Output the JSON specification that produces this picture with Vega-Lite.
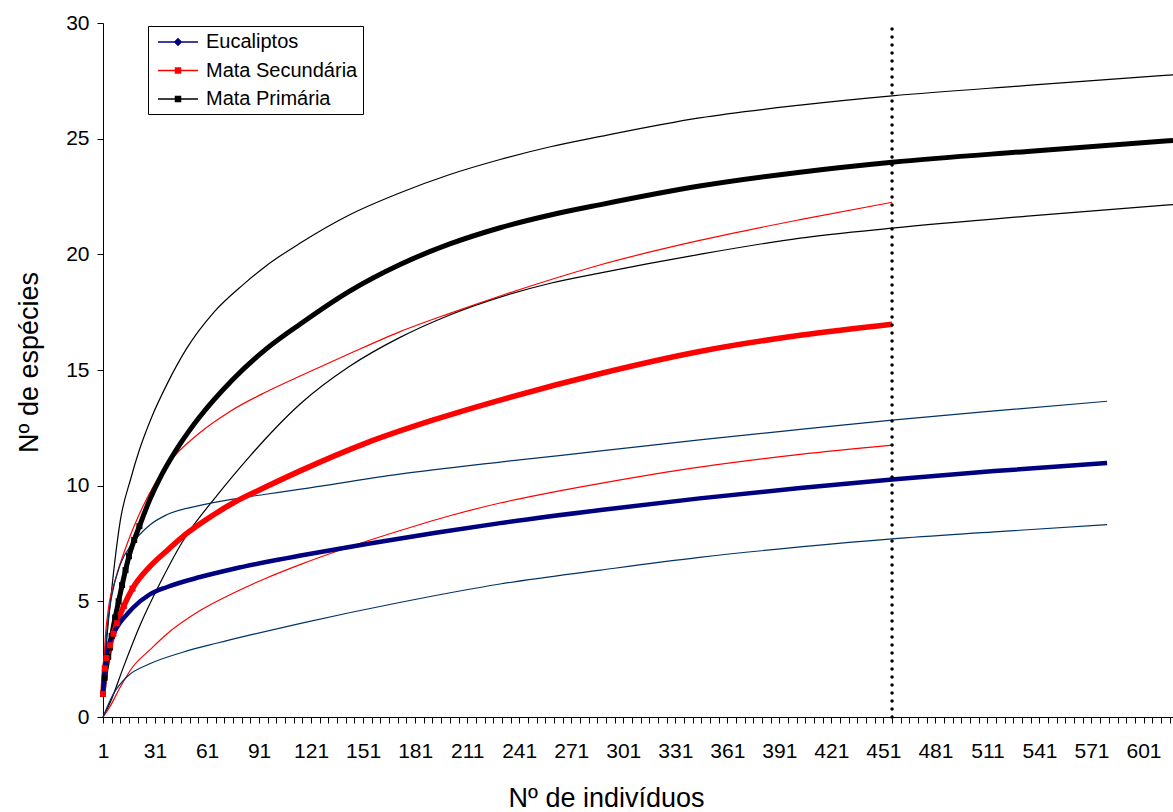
{
  "$schema": "https://vega.github.io/schema/vega-lite/v6.json",
  "width": 1070,
  "height": 694,
  "autosize": {"type": "none"},
  "padding": {"left": 103, "top": 23, "right": 0, "bottom": 95},
  "background": "white",
  "config": {
    "view": {"stroke": null},
    "font": "Liberation Sans",
    "axis": {
      "grid": false,
      "domainColor": "#000000",
      "tickColor": "#000000",
      "labelColor": "#000000",
      "titleColor": "#000000",
      "labelFont": "Liberation Sans",
      "titleFont": "Liberation Sans",
      "labelFontSize": 21,
      "titleFontSize": 27,
      "titleFontWeight": "normal"
    }
  },
  "datasets": {
    "curvas": [
      {"n": 1, "y": 1.0, "serie": "Mata Primária", "tipo": "media"},
      {"n": 2, "y": 1.7, "serie": "Mata Primária", "tipo": "media"},
      {"n": 4, "y": 2.6, "serie": "Mata Primária", "tipo": "media"},
      {"n": 5, "y": 3.0, "serie": "Mata Primária", "tipo": "media"},
      {"n": 6, "y": 3.5, "serie": "Mata Primária", "tipo": "media"},
      {"n": 8, "y": 4.3, "serie": "Mata Primária", "tipo": "media"},
      {"n": 10, "y": 5.0, "serie": "Mata Primária", "tipo": "media"},
      {"n": 12, "y": 5.7, "serie": "Mata Primária", "tipo": "media"},
      {"n": 14, "y": 6.35, "serie": "Mata Primária", "tipo": "media"},
      {"n": 16, "y": 6.95, "serie": "Mata Primária", "tipo": "media"},
      {"n": 19, "y": 7.65, "serie": "Mata Primária", "tipo": "media"},
      {"n": 22, "y": 8.25, "serie": "Mata Primária", "tipo": "media"},
      {"n": 28, "y": 9.4, "serie": "Mata Primária", "tipo": "media"},
      {"n": 34, "y": 10.35, "serie": "Mata Primária", "tipo": "media"},
      {"n": 40, "y": 11.15, "serie": "Mata Primária", "tipo": "media"},
      {"n": 45, "y": 11.75, "serie": "Mata Primária", "tipo": "media"},
      {"n": 51, "y": 12.4, "serie": "Mata Primária", "tipo": "media"},
      {"n": 56, "y": 12.9, "serie": "Mata Primária", "tipo": "media"},
      {"n": 76, "y": 14.6, "serie": "Mata Primária", "tipo": "media"},
      {"n": 95, "y": 15.9, "serie": "Mata Primária", "tipo": "media"},
      {"n": 115, "y": 17.0, "serie": "Mata Primária", "tipo": "media"},
      {"n": 143, "y": 18.4, "serie": "Mata Primária", "tipo": "media"},
      {"n": 172, "y": 19.55, "serie": "Mata Primária", "tipo": "media"},
      {"n": 201, "y": 20.45, "serie": "Mata Primária", "tipo": "media"},
      {"n": 230, "y": 21.15, "serie": "Mata Primária", "tipo": "media"},
      {"n": 259, "y": 21.7, "serie": "Mata Primária", "tipo": "media"},
      {"n": 288, "y": 22.15, "serie": "Mata Primária", "tipo": "media"},
      {"n": 345, "y": 22.95, "serie": "Mata Primária", "tipo": "media"},
      {"n": 403, "y": 23.55, "serie": "Mata Primária", "tipo": "media"},
      {"n": 456, "y": 23.98, "serie": "Mata Primária", "tipo": "media"},
      {"n": 534, "y": 24.45, "serie": "Mata Primária", "tipo": "media"},
      {"n": 618, "y": 24.92, "serie": "Mata Primária", "tipo": "media"},

      {"n": 1, "y": 1.0, "serie": "Mata Primária", "tipo": "sup"},
      {"n": 3, "y": 3.2, "serie": "Mata Primária", "tipo": "sup"},
      {"n": 5, "y": 4.8, "serie": "Mata Primária", "tipo": "sup"},
      {"n": 7, "y": 6.2, "serie": "Mata Primária", "tipo": "sup"},
      {"n": 11, "y": 8.5, "serie": "Mata Primária", "tipo": "sup"},
      {"n": 17, "y": 10.3, "serie": "Mata Primária", "tipo": "sup"},
      {"n": 22, "y": 11.55, "serie": "Mata Primária", "tipo": "sup"},
      {"n": 29, "y": 12.95, "serie": "Mata Primária", "tipo": "sup"},
      {"n": 38, "y": 14.4, "serie": "Mata Primária", "tipo": "sup"},
      {"n": 49, "y": 15.9, "serie": "Mata Primária", "tipo": "sup"},
      {"n": 65, "y": 17.5, "serie": "Mata Primária", "tipo": "sup"},
      {"n": 82, "y": 18.7, "serie": "Mata Primária", "tipo": "sup"},
      {"n": 95, "y": 19.5, "serie": "Mata Primária", "tipo": "sup"},
      {"n": 115, "y": 20.5, "serie": "Mata Primária", "tipo": "sup"},
      {"n": 143, "y": 21.7, "serie": "Mata Primária", "tipo": "sup"},
      {"n": 172, "y": 22.65, "serie": "Mata Primária", "tipo": "sup"},
      {"n": 201, "y": 23.45, "serie": "Mata Primária", "tipo": "sup"},
      {"n": 230, "y": 24.1, "serie": "Mata Primária", "tipo": "sup"},
      {"n": 259, "y": 24.65, "serie": "Mata Primária", "tipo": "sup"},
      {"n": 288, "y": 25.1, "serie": "Mata Primária", "tipo": "sup"},
      {"n": 345, "y": 25.9, "serie": "Mata Primária", "tipo": "sup"},
      {"n": 403, "y": 26.45, "serie": "Mata Primária", "tipo": "sup"},
      {"n": 456, "y": 26.85, "serie": "Mata Primária", "tipo": "sup"},
      {"n": 534, "y": 27.3, "serie": "Mata Primária", "tipo": "sup"},
      {"n": 618, "y": 27.76, "serie": "Mata Primária", "tipo": "sup"},

      {"n": 1, "y": 0.0, "serie": "Mata Primária", "tipo": "inf"},
      {"n": 5, "y": 0.6, "serie": "Mata Primária", "tipo": "inf"},
      {"n": 13, "y": 2.2, "serie": "Mata Primária", "tipo": "inf"},
      {"n": 22, "y": 3.9, "serie": "Mata Primária", "tipo": "inf"},
      {"n": 34, "y": 5.8, "serie": "Mata Primária", "tipo": "inf"},
      {"n": 47, "y": 7.6, "serie": "Mata Primária", "tipo": "inf"},
      {"n": 67, "y": 9.6, "serie": "Mata Primária", "tipo": "inf"},
      {"n": 86, "y": 11.3, "serie": "Mata Primária", "tipo": "inf"},
      {"n": 100, "y": 12.45, "serie": "Mata Primária", "tipo": "inf"},
      {"n": 115, "y": 13.55, "serie": "Mata Primária", "tipo": "inf"},
      {"n": 143, "y": 15.15, "serie": "Mata Primária", "tipo": "inf"},
      {"n": 172, "y": 16.4, "serie": "Mata Primária", "tipo": "inf"},
      {"n": 201, "y": 17.38, "serie": "Mata Primária", "tipo": "inf"},
      {"n": 230, "y": 18.15, "serie": "Mata Primária", "tipo": "inf"},
      {"n": 259, "y": 18.75, "serie": "Mata Primária", "tipo": "inf"},
      {"n": 288, "y": 19.2, "serie": "Mata Primária", "tipo": "inf"},
      {"n": 345, "y": 20.0, "serie": "Mata Primária", "tipo": "inf"},
      {"n": 403, "y": 20.7, "serie": "Mata Primária", "tipo": "inf"},
      {"n": 456, "y": 21.13, "serie": "Mata Primária", "tipo": "inf"},
      {"n": 534, "y": 21.65, "serie": "Mata Primária", "tipo": "inf"},
      {"n": 618, "y": 22.15, "serie": "Mata Primária", "tipo": "inf"},

      {"n": 1, "y": 1.0, "serie": "Mata Secundária", "tipo": "media"},
      {"n": 2, "y": 2.1, "serie": "Mata Secundária", "tipo": "media"},
      {"n": 3, "y": 2.55, "serie": "Mata Secundária", "tipo": "media"},
      {"n": 5, "y": 3.1, "serie": "Mata Secundária", "tipo": "media"},
      {"n": 7, "y": 3.6, "serie": "Mata Secundária", "tipo": "media"},
      {"n": 9, "y": 4.05, "serie": "Mata Secundária", "tipo": "media"},
      {"n": 13, "y": 4.8, "serie": "Mata Secundária", "tipo": "media"},
      {"n": 18, "y": 5.55, "serie": "Mata Secundária", "tipo": "media"},
      {"n": 28, "y": 6.5, "serie": "Mata Secundária", "tipo": "media"},
      {"n": 38, "y": 7.2, "serie": "Mata Secundária", "tipo": "media"},
      {"n": 47, "y": 7.8, "serie": "Mata Secundária", "tipo": "media"},
      {"n": 57, "y": 8.35, "serie": "Mata Secundária", "tipo": "media"},
      {"n": 76, "y": 9.25, "serie": "Mata Secundária", "tipo": "media"},
      {"n": 95, "y": 9.95, "serie": "Mata Secundária", "tipo": "media"},
      {"n": 115, "y": 10.65, "serie": "Mata Secundária", "tipo": "media"},
      {"n": 153, "y": 11.85, "serie": "Mata Secundária", "tipo": "media"},
      {"n": 192, "y": 12.85, "serie": "Mata Secundária", "tipo": "media"},
      {"n": 230, "y": 13.7, "serie": "Mata Secundária", "tipo": "media"},
      {"n": 288, "y": 14.85, "serie": "Mata Secundária", "tipo": "media"},
      {"n": 345, "y": 15.8, "serie": "Mata Secundária", "tipo": "media"},
      {"n": 403, "y": 16.5, "serie": "Mata Secundária", "tipo": "media"},
      {"n": 456, "y": 16.98, "serie": "Mata Secundária", "tipo": "media"},

      {"n": 1, "y": 1.0, "serie": "Mata Secundária", "tipo": "sup"},
      {"n": 2, "y": 3.0, "serie": "Mata Secundária", "tipo": "sup"},
      {"n": 4, "y": 4.6, "serie": "Mata Secundária", "tipo": "sup"},
      {"n": 8, "y": 5.9, "serie": "Mata Secundária", "tipo": "sup"},
      {"n": 15, "y": 7.5, "serie": "Mata Secundária", "tipo": "sup"},
      {"n": 24, "y": 9.1, "serie": "Mata Secundária", "tipo": "sup"},
      {"n": 38, "y": 10.9, "serie": "Mata Secundária", "tipo": "sup"},
      {"n": 57, "y": 12.3, "serie": "Mata Secundária", "tipo": "sup"},
      {"n": 74, "y": 13.2, "serie": "Mata Secundária", "tipo": "sup"},
      {"n": 95, "y": 14.05, "serie": "Mata Secundária", "tipo": "sup"},
      {"n": 115, "y": 14.75, "serie": "Mata Secundária", "tipo": "sup"},
      {"n": 143, "y": 15.7, "serie": "Mata Secundária", "tipo": "sup"},
      {"n": 172, "y": 16.65, "serie": "Mata Secundária", "tipo": "sup"},
      {"n": 201, "y": 17.45, "serie": "Mata Secundária", "tipo": "sup"},
      {"n": 230, "y": 18.2, "serie": "Mata Secundária", "tipo": "sup"},
      {"n": 259, "y": 18.9, "serie": "Mata Secundária", "tipo": "sup"},
      {"n": 288, "y": 19.55, "serie": "Mata Secundária", "tipo": "sup"},
      {"n": 345, "y": 20.6, "serie": "Mata Secundária", "tipo": "sup"},
      {"n": 403, "y": 21.5, "serie": "Mata Secundária", "tipo": "sup"},
      {"n": 456, "y": 22.25, "serie": "Mata Secundária", "tipo": "sup"},

      {"n": 1, "y": 0.0, "serie": "Mata Secundária", "tipo": "inf"},
      {"n": 5, "y": 0.45, "serie": "Mata Secundária", "tipo": "inf"},
      {"n": 11, "y": 1.3, "serie": "Mata Secundária", "tipo": "inf"},
      {"n": 18, "y": 2.15, "serie": "Mata Secundária", "tipo": "inf"},
      {"n": 28, "y": 2.9, "serie": "Mata Secundária", "tipo": "inf"},
      {"n": 38, "y": 3.6, "serie": "Mata Secundária", "tipo": "inf"},
      {"n": 57, "y": 4.6, "serie": "Mata Secundária", "tipo": "inf"},
      {"n": 76, "y": 5.35, "serie": "Mata Secundária", "tipo": "inf"},
      {"n": 95, "y": 6.0, "serie": "Mata Secundária", "tipo": "inf"},
      {"n": 115, "y": 6.6, "serie": "Mata Secundária", "tipo": "inf"},
      {"n": 143, "y": 7.35, "serie": "Mata Secundária", "tipo": "inf"},
      {"n": 172, "y": 8.05, "serie": "Mata Secundária", "tipo": "inf"},
      {"n": 201, "y": 8.7, "serie": "Mata Secundária", "tipo": "inf"},
      {"n": 230, "y": 9.25, "serie": "Mata Secundária", "tipo": "inf"},
      {"n": 259, "y": 9.7, "serie": "Mata Secundária", "tipo": "inf"},
      {"n": 288, "y": 10.1, "serie": "Mata Secundária", "tipo": "inf"},
      {"n": 345, "y": 10.8, "serie": "Mata Secundária", "tipo": "inf"},
      {"n": 403, "y": 11.35, "serie": "Mata Secundária", "tipo": "inf"},
      {"n": 456, "y": 11.75, "serie": "Mata Secundária", "tipo": "inf"},

      {"n": 1, "y": 1.0, "serie": "Eucaliptos", "tipo": "media"},
      {"n": 2, "y": 2.0, "serie": "Eucaliptos", "tipo": "media"},
      {"n": 4, "y": 3.0, "serie": "Eucaliptos", "tipo": "media"},
      {"n": 7, "y": 3.6, "serie": "Eucaliptos", "tipo": "media"},
      {"n": 11, "y": 4.1, "serie": "Eucaliptos", "tipo": "media"},
      {"n": 15, "y": 4.45, "serie": "Eucaliptos", "tipo": "media"},
      {"n": 18, "y": 4.7, "serie": "Eucaliptos", "tipo": "media"},
      {"n": 28, "y": 5.3, "serie": "Eucaliptos", "tipo": "media"},
      {"n": 38, "y": 5.62, "serie": "Eucaliptos", "tipo": "media"},
      {"n": 57, "y": 6.05, "serie": "Eucaliptos", "tipo": "media"},
      {"n": 76, "y": 6.4, "serie": "Eucaliptos", "tipo": "media"},
      {"n": 95, "y": 6.7, "serie": "Eucaliptos", "tipo": "media"},
      {"n": 115, "y": 6.98, "serie": "Eucaliptos", "tipo": "media"},
      {"n": 153, "y": 7.48, "serie": "Eucaliptos", "tipo": "media"},
      {"n": 192, "y": 7.95, "serie": "Eucaliptos", "tipo": "media"},
      {"n": 230, "y": 8.38, "serie": "Eucaliptos", "tipo": "media"},
      {"n": 288, "y": 8.95, "serie": "Eucaliptos", "tipo": "media"},
      {"n": 345, "y": 9.45, "serie": "Eucaliptos", "tipo": "media"},
      {"n": 403, "y": 9.9, "serie": "Eucaliptos", "tipo": "media"},
      {"n": 456, "y": 10.27, "serie": "Eucaliptos", "tipo": "media"},
      {"n": 515, "y": 10.63, "serie": "Eucaliptos", "tipo": "media"},
      {"n": 580, "y": 10.98, "serie": "Eucaliptos", "tipo": "media"},

      {"n": 1, "y": 1.0, "serie": "Eucaliptos", "tipo": "sup"},
      {"n": 3, "y": 3.5, "serie": "Eucaliptos", "tipo": "sup"},
      {"n": 6, "y": 5.2, "serie": "Eucaliptos", "tipo": "sup"},
      {"n": 11, "y": 6.6, "serie": "Eucaliptos", "tipo": "sup"},
      {"n": 18, "y": 7.5, "serie": "Eucaliptos", "tipo": "sup"},
      {"n": 28, "y": 8.3, "serie": "Eucaliptos", "tipo": "sup"},
      {"n": 38, "y": 8.75, "serie": "Eucaliptos", "tipo": "sup"},
      {"n": 57, "y": 9.15, "serie": "Eucaliptos", "tipo": "sup"},
      {"n": 76, "y": 9.42, "serie": "Eucaliptos", "tipo": "sup"},
      {"n": 95, "y": 9.63, "serie": "Eucaliptos", "tipo": "sup"},
      {"n": 115, "y": 9.85, "serie": "Eucaliptos", "tipo": "sup"},
      {"n": 172, "y": 10.5, "serie": "Eucaliptos", "tipo": "sup"},
      {"n": 230, "y": 11.02, "serie": "Eucaliptos", "tipo": "sup"},
      {"n": 288, "y": 11.5, "serie": "Eucaliptos", "tipo": "sup"},
      {"n": 345, "y": 11.98, "serie": "Eucaliptos", "tipo": "sup"},
      {"n": 403, "y": 12.43, "serie": "Eucaliptos", "tipo": "sup"},
      {"n": 456, "y": 12.83, "serie": "Eucaliptos", "tipo": "sup"},
      {"n": 515, "y": 13.23, "serie": "Eucaliptos", "tipo": "sup"},
      {"n": 580, "y": 13.65, "serie": "Eucaliptos", "tipo": "sup"},

      {"n": 1, "y": 0.0, "serie": "Eucaliptos", "tipo": "inf"},
      {"n": 7, "y": 1.0, "serie": "Eucaliptos", "tipo": "inf"},
      {"n": 15, "y": 1.75, "serie": "Eucaliptos", "tipo": "inf"},
      {"n": 28, "y": 2.3, "serie": "Eucaliptos", "tipo": "inf"},
      {"n": 47, "y": 2.8, "serie": "Eucaliptos", "tipo": "inf"},
      {"n": 67, "y": 3.2, "serie": "Eucaliptos", "tipo": "inf"},
      {"n": 86, "y": 3.55, "serie": "Eucaliptos", "tipo": "inf"},
      {"n": 115, "y": 4.05, "serie": "Eucaliptos", "tipo": "inf"},
      {"n": 172, "y": 4.95, "serie": "Eucaliptos", "tipo": "inf"},
      {"n": 230, "y": 5.75, "serie": "Eucaliptos", "tipo": "inf"},
      {"n": 288, "y": 6.35, "serie": "Eucaliptos", "tipo": "inf"},
      {"n": 345, "y": 6.9, "serie": "Eucaliptos", "tipo": "inf"},
      {"n": 403, "y": 7.35, "serie": "Eucaliptos", "tipo": "inf"},
      {"n": 456, "y": 7.7, "serie": "Eucaliptos", "tipo": "inf"},
      {"n": 515, "y": 8.0, "serie": "Eucaliptos", "tipo": "inf"},
      {"n": 580, "y": 8.32, "serie": "Eucaliptos", "tipo": "inf"}
    ],
    "referencia": [{"n": 456, "y": 0, "y2": 30}]
  },
  "data": {"name": "curvas"},
  "encoding": {
    "x": {
      "field": "n", "type": "quantitative",
      "scale": {"domain": [1, 618], "nice": false, "zero": false},
      "axis": {
        "title": "Nº de indivíduos",
        "values": [1,6,11,16,21,26,31,36,41,46,51,56,61,66,71,76,81,86,91,96,101,106,111,116,121,126,131,136,141,146,151,156,161,166,171,176,181,186,191,196,201,206,211,216,221,226,231,236,241,246,251,256,261,266,271,276,281,286,291,296,301,306,311,316,321,326,331,336,341,346,351,356,361,366,371,376,381,386,391,396,401,406,411,416,421,426,431,436,441,446,451,456,461,466,471,476,481,486,491,496,501,506,511,516,521,526,531,536,541,546,551,556,561,566,571,576,581,586,591,596,601,606,611,616],
        "labelExpr": "(datum.value - 1) % 30 === 0 ? datum.label : ''",
        "labelOverlap": false,
        "labelFlush": false,
        "tickSize": 6,
        "labelPadding": 17,
        "titleX": 503,
        "titleY": 89,
        "titleBaseline": "alphabetic"
      }
    },
    "y": {
      "field": "y", "type": "quantitative",
      "scale": {"domain": [0, 30], "nice": false},
      "axis": {
        "title": "Nº de espécies",
        "values": [0, 5, 10, 15, 20, 25, 30],
        "tickSize": 6,
        "labelPadding": 8,
        "titleX": -66,
        "titleY": 339,
        "titleAngle": -90,
        "titleBaseline": "alphabetic"
      }
    }
  },
  "layer": [
    {
      "transform": [{"filter": "datum.tipo !== 'media'"}],
      "mark": {"type": "line", "strokeWidth": 1.2, "interpolate": "monotone"},
      "encoding": {
        "stroke": {
          "field": "serie", "type": "nominal",
          "scale": {"domain": ["Mata Primária", "Mata Secundária", "Eucaliptos"], "range": ["#000000", "#FF0000", "#003366"]},
          "legend": null
        },
        "detail": {"field": "tipo"}
      }
    },
    {
      "transform": [{"filter": "datum.tipo === 'media'"}],
      "mark": {"type": "line", "interpolate": "monotone"},
      "encoding": {
        "color": {
          "field": "serie", "type": "nominal",
          "scale": {"domain": ["Eucaliptos", "Mata Secundária", "Mata Primária"], "range": ["#000080", "#FF0000", "#000000"]},
          "legend": {
            "title": null,
            "orient": "none",
            "legendX": 45,
            "legendY": 3,
            "direction": "vertical",
            "strokeColor": "#000000",
            "fillColor": "#FFFFFF",
            "padding": 5,
            "labelFont": "Liberation Sans",
            "labelFontSize": 20,
            "labelColor": "#000000",
            "symbolSize": 400,
            "symbolStrokeWidth": 1.5,
            "labelOffset": 31,
            "rowPadding": 7.5,
            "symbolType": "M-0.6,0L3.4,0M1.15,-0.25L1.65,-0.25L1.65,0.25L1.15,0.25Z",
            "encode": {
              "symbols": {
                "update": {
                  "shape": {"signal": "datum.value === 'Eucaliptos' ? 'M-0.6,0L3.4,0M1.4,-0.32L1.72,0L1.4,0.32L1.08,0Z' : 'M-0.6,0L3.4,0M1.15,-0.25L1.65,-0.25L1.65,0.25L1.15,0.25Z'"},
                  "fill": {"signal": "datum.value === 'Eucaliptos' ? '#000080' : datum.value === 'Mata Secundária' ? '#FF0000' : '#000000'"}
                }
              }
            }
          }
        },
        "strokeWidth": {
          "field": "serie", "type": "nominal",
          "scale": {"domain": ["Eucaliptos", "Mata Primária", "Mata Secundária"], "range": [4.5, 5.5, 5]},
          "legend": null
        }
      }
    },
    {
      "transform": [{"filter": "datum.tipo === 'media' && datum.serie !== 'Eucaliptos' && datum.n <= 22"}],
      "mark": {"type": "square", "size": 36, "opacity": 1},
      "encoding": {
        "fill": {
          "field": "serie", "type": "nominal",
          "scale": {"domain": ["Mata Secundária", "Eucaliptos", "Mata Primária"], "range": ["#FF0000", "#000080", "#000000"]},
          "legend": null
        }
      }
    },
    {
      "data": {"name": "referencia"},
      "mark": {"type": "rule", "color": "#000000", "strokeWidth": 3.5, "strokeDash": [0, 8], "strokeCap": "round"},
      "encoding": {
        "y2": {"field": "y2"}
      }
    }
  ]
}
